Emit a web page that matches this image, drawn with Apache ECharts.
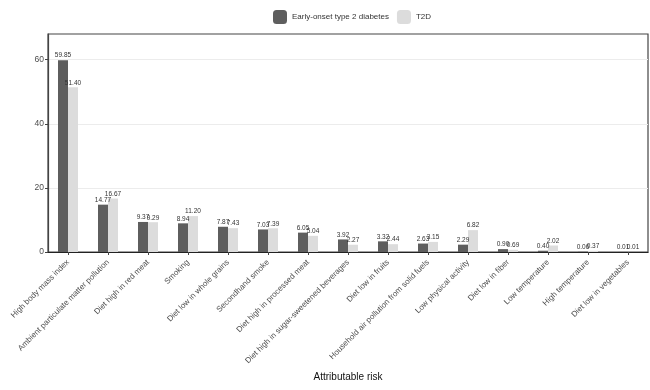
<!DOCTYPE html>
<html><head><meta charset="utf-8">
<script src="https://cdn.jsdelivr.net/npm/echarts@6/dist/echarts.min.js"></script>
<style>html,body{margin:0;padding:0;background:#fff}#c{width:650px;height:390px}</style>
</head><body><div id="c"></div>
<script>
const categories = ["High body mass index","Ambient particulate matter pollution","Diet high in red meat","Smoking","Diet low in whole grains","Secondhand smoke","Diet high in processed meat","Diet high in sugar-sweetened beverages","Diet low in fruits","Household air pollution from solid fuels","Low physical activity","Diet low in fiber","Low temperature","High temperature","Diet low in vegetables"];
const earlyOnset = [59.85,14.77,9.37,8.94,7.87,7.03,6.05,3.92,3.32,2.63,2.29,0.90,0.40,0.06,0.01];
const t2d = [51.40,16.67,9.29,11.20,7.43,7.39,5.04,2.27,2.44,3.15,6.82,0.69,2.02,0.37,0.01];
const yTicks = [0,20,40,60];

const chart = echarts.init(document.getElementById('c'), null, {renderer:'canvas'});
const lbl = {show:true, position:'top', distance:1, fontSize:6.5, color:'#333', fontFamily:'Liberation Sans', formatter:p=>p.value.toFixed(2)};
chart.setOption({
  animation:false,
  backgroundColor:'#fff',
  textStyle:{fontFamily:'Liberation Sans'},
  legend:{top:5, left:268, itemWidth:14, itemHeight:14, itemGap:8,
    textStyle:{fontSize:8, color:'#333', fontFamily:'Liberation Sans'},
    data:['Early-onset type 2 diabetes','T2D']},
  grid:{left:48, right:2, top:34, bottom:138, show:true, borderColor:'#444', borderWidth:1.2},
  xAxis:{type:'category', data:categories,
    name:'Attributable risk', nameLocation:'middle', nameGap:120,
    nameTextStyle:{fontSize:10, color:'#111'},
    axisLine:{lineStyle:{color:'#222', width:1.2}},
    axisTick:{show:true, alignWithLabel:true, length:3, lineStyle:{color:'#444'}},
    axisLabel:{rotate:45, fontSize:8, color:'#4d4d4d', interval:0, margin:9}},
  yAxis:{type:'value', min:0, max:68,
    axisLine:{show:true, lineStyle:{color:'#444', width:1.2}},
    axisTick:{show:true, length:3, lineStyle:{color:'#444'}, customValues:yTicks},
    axisLabel:{fontSize:8.5, color:'#4d4d4d', margin:4, customValues:yTicks},
    splitLine:{show:false}},
  series:[
    {name:'Early-onset type 2 diabetes', type:'bar', data:earlyOnset, barWidth:10, barGap:'0%',
      itemStyle:{color:'#5e5e5e'}, label:lbl,
      markLine:{silent:true, symbol:'none', label:{show:false}, lineStyle:{color:'#ececec', type:'solid', width:1},
        data:yTicks.slice(1).map(v=>({yAxis:v})), z:0}},
    {name:'T2D', type:'bar', data:t2d, barWidth:10,
      itemStyle:{color:'#dcdcdc'}, label:lbl}
  ]
});
</script></body></html>
